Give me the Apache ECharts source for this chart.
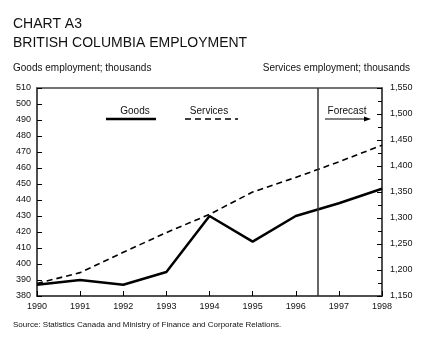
<!DOCTYPE html>
<html>
<head>
<meta charset="utf-8">
<script src="https://cdn.jsdelivr.net/npm/echarts@6/dist/echarts.min.js"></script>
<style>
  html, body { margin: 0; padding: 0; background: #fff; }
  #chart { width: 433px; height: 341px; }
</style>
</head>
<body>
<div id="chart"></div>
<script>
// Employment in British Columbia, thousands of persons (1997–1998 forecast)
const years = [1990, 1991, 1992, 1993, 1994, 1995, 1996, 1997, 1998];
const goods = [387, 390, 387, 395, 430, 414, 430, 438, 447];
const services = [1174, 1195, 1234, 1272, 1307, 1350, 1378, 1408, 1440];
const forecastStart = 1996.5;

const FONT = 'Liberation Sans, Arial, Helvetica, sans-serif';
const AXIS = '#444';

const chart = echarts.init(document.getElementById('chart'), null, { renderer: 'canvas' });

const fmtThousands = v => v.toLocaleString('en-US');

chart.setOption({
  animation: false,
  backgroundColor: '#fff',
  textStyle: { fontFamily: FONT },
  grid: {
    left: 37, right: 51, top: 88, bottom: 45,
    show: true, borderColor: AXIS, borderWidth: 1.5, backgroundColor: 'transparent'
  },
  xAxis: {
    type: 'value', min: 1990, max: 1998, interval: 1,
    axisLine: { show: true, lineStyle: { color: AXIS, width: 1.5 } },
    axisTick: { show: true, inside: true, length: 5, lineStyle: { color: '#000', width: 1 } },
    axisLabel: { formatter: v => String(v), color: '#111', fontSize: 9, margin: 6, fontFamily: FONT },
    splitLine: { show: false }
  },
  yAxis: [
    {
      type: 'value', position: 'left', min: 380, max: 510, interval: 10,
      axisLine: { show: true, lineStyle: { color: AXIS, width: 1.5 } },
      axisTick: { show: true, inside: true, length: 5, lineStyle: { color: '#000', width: 1 } },
      axisLabel: { color: '#111', fontSize: 9, margin: 6, fontFamily: FONT },
      splitLine: { show: false }
    },
    {
      type: 'value', position: 'right', min: 1150, max: 1550, interval: 50,
      axisLine: { show: true, lineStyle: { color: AXIS, width: 1.5 } },
      axisTick: { show: true, inside: true, length: 5, lineStyle: { color: '#000', width: 1 } },
      minorTick: { show: true, splitNumber: 2, length: 4, lineStyle: { color: '#000', width: 1 } },
      axisLabel: { color: '#111', fontSize: 9, margin: 8, formatter: fmtThousands, fontFamily: FONT },
      splitLine: { show: false }
    }
  ],
  series: [
    {
      name: 'Goods', type: 'line', yAxisIndex: 0,
      data: years.map((y, i) => [y, goods[i]]),
      symbol: 'none',
      lineStyle: { color: '#000', width: 2.5 },
      z: 3,
      markLine: {
        silent: true, symbol: 'none', label: { show: false },
        lineStyle: { color: '#333', width: 1.5, type: 'solid' },
        data: [{ xAxis: forecastStart }]
      }
    },
    {
      name: 'Services', type: 'line', yAxisIndex: 1,
      data: years.map((y, i) => [y, services[i]]),
      symbol: 'none',
      lineStyle: { color: '#000', width: 1.6, type: [6, 4] },
      z: 2
    }
  ],
  graphic: [
    { type: 'text', left: 13, top: 17, style: { text: 'CHART A3', font: '14px ' + FONT, fill: '#111' } },
    { type: 'text', left: 13, top: 36, style: { text: 'BRITISH COLUMBIA EMPLOYMENT', font: '14px ' + FONT, fill: '#111' } },
    { type: 'text', left: 13, top: 63, style: { text: 'Goods employment; thousands', font: '10px ' + FONT, fill: '#111' } },
    { type: 'text', right: 23, top: 63, style: { text: 'Services employment; thousands', font: '10px ' + FONT, fill: '#111' } },
    // legend keys
    { type: 'text', x: 135, y: 111, style: { text: 'Goods', font: '10px ' + FONT, fill: '#111', align: 'center', verticalAlign: 'middle' } },
    { type: 'line', shape: { x1: 106, y1: 119, x2: 156, y2: 119 }, style: { stroke: '#000', lineWidth: 2.5 } },
    { type: 'text', x: 209, y: 111, style: { text: 'Services', font: '10px ' + FONT, fill: '#111', align: 'center', verticalAlign: 'middle' } },
    { type: 'line', shape: { x1: 185, y1: 119, x2: 238, y2: 119 }, style: { stroke: '#000', lineWidth: 1.6, lineDash: [6, 4] } },
    // forecast marker
    { type: 'text', x: 347, y: 111, style: { text: 'Forecast', font: '10px ' + FONT, fill: '#111', align: 'center', verticalAlign: 'middle' } },
    { type: 'line', shape: { x1: 325, y1: 119, x2: 366, y2: 119 }, style: { stroke: '#000', lineWidth: 1 } },
    { type: 'polygon', shape: { points: [[371, 119], [364, 116.5], [364, 121.5]] }, style: { fill: '#000' } },
    { type: 'text', left: 13, top: 321, style: { text: 'Source: Statistics Canada and Ministry of Finance and Corporate Relations.', font: '8px ' + FONT, fill: '#111' } }
  ]
});
</script>
</body>
</html>
